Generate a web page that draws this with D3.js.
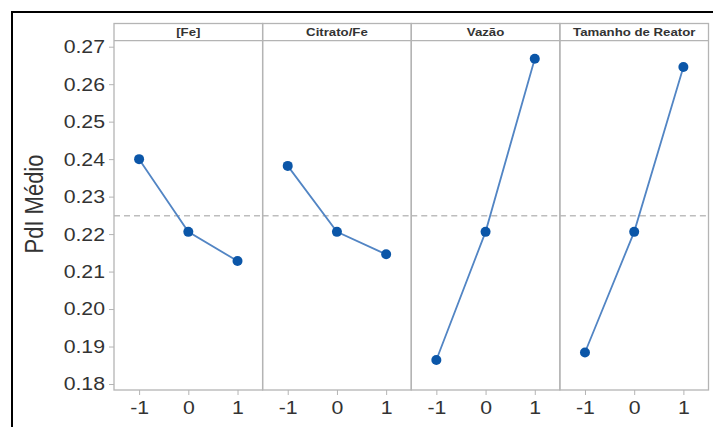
<!DOCTYPE html>
<html>
<head>
<meta charset="utf-8">
<script src="https://cdn.jsdelivr.net/npm/d3@7"></script>
<style>
  html, body { margin: 0; padding: 0; background: #fff; }
  svg { display: block; }
  text { font-family: "Liberation Sans", Arial, sans-serif; fill: #333; }
</style>
</head>
<body>
<svg id="chart" width="713" height="427"></svg>
<script>
// Main-effects plot: mean PdI at each factor level
const factors = ["[Fe]", "Citrato/Fe", "Vazão", "Tamanho de Reator"];
const levels = [-1, 0, 1];
const feMeans      = [0.2400, 0.2206, 0.2128];
const citratoMeans = [0.2382, 0.2206, 0.2146];
const vazaoMeans   = [0.1864, 0.2206, 0.2668];
const reatorMeans  = [0.1884, 0.2206, 0.2646];
const grandMean = 0.2249;
const yTicks = [0.18, 0.19, 0.20, 0.21, 0.22, 0.23, 0.24, 0.25, 0.26, 0.27];
const yLabel = "PdI Médio";

const seriesByFactor = [feMeans, citratoMeans, vazaoMeans, reatorMeans];

const svg = d3.select("#chart");
const W = 713, H = 427;
const plot = { left: 114, right: 708.5, top: 23.5, stripBottom: 40.7, bottom: 390 };
const sx = 1.15; // horizontal text stretch

// outer frame
svg.append("rect")
  .attr("x", 12).attr("y", 12)
  .attr("width", W + 10).attr("height", H + 10)
  .attr("fill", "none").attr("stroke", "#000").attr("stroke-width", 2);

const y = d3.scaleLinear()
  .domain([0.1784, 0.2716])
  .range([plot.bottom, plot.stripBottom]);

const panel = d3.scaleBand()
  .domain(factors)
  .range([plot.left, plot.right])
  .paddingInner(0).paddingOuter(0);

const gridColor = "#b4b4b4";

// y axis
const yAxis = svg.append("g")
  .attr("transform", `translate(${plot.left},0)`)
  .call(d3.axisLeft(y).tickValues(yTicks).tickFormat(d3.format(".2f")).tickSize(5).tickPadding(4));
yAxis.select(".domain").remove();
yAxis.selectAll(".tick line").attr("stroke", gridColor);
yAxis.selectAll(".tick text")
  .style("font-size", "18.5px").attr("fill", "#333")
  .each(function () {
    const t = d3.select(this);
    const xx = +t.attr("x");
    t.attr("transform", `translate(${xx},0) scale(${sx},1) translate(${-xx},0)`);
  });

// y axis title
svg.append("text")
  .attr("transform", `translate(43,204) rotate(-90) scale(1,${sx})`)
  .attr("text-anchor", "middle")
  .style("font-size", "22px")
  .text(yLabel);

factors.forEach((f, i) => {
  const x0 = panel(f);
  const bw = panel.bandwidth();
  const x = d3.scaleLinear().domain([-1.51, 1.51]).range([x0, x0 + bw]);
  const g = svg.append("g");
  const vals = seriesByFactor[i];
  const pts = levels.map((l, k) => ({ l, v: vals[k] }));

  // reference line at the overall mean
  g.append("line")
    .attr("x1", x0).attr("x2", x0 + bw)
    .attr("y1", y(grandMean)).attr("y2", y(grandMean))
    .attr("stroke", "#bdbdbd").attr("stroke-width", 1.6)
    .attr("stroke-dasharray", "6,4");

  // x axis
  const xa = g.append("g")
    .attr("transform", `translate(0,${plot.bottom})`)
    .call(d3.axisBottom(x).tickValues(levels).tickFormat(d3.format("d")).tickSize(5).tickPadding(6));
  xa.select(".domain").remove();
  xa.selectAll(".tick line").attr("stroke", gridColor);
  xa.selectAll(".tick text")
    .style("font-size", "18.5px").attr("fill", "#333")
    .attr("transform", `scale(${sx},1)`)
    .text(d => d < 0 ? "-1" : d);

  // line + points
  g.append("path")
    .datum(pts)
    .attr("fill", "none")
    .attr("stroke", "#5285c4")
    .attr("stroke-width", 1.8)
    .attr("d", d3.line().x(d => x(d.l)).y(d => y(d.v)));
  g.selectAll("circle")
    .data(pts).join("circle")
    .attr("cx", d => x(d.l)).attr("cy", d => y(d.v))
    .attr("r", 5)
    .attr("fill", "#0b56a8");

  // panel frame
  g.append("rect")
    .attr("x", x0).attr("y", plot.top)
    .attr("width", bw).attr("height", plot.bottom - plot.top)
    .attr("fill", "none").attr("stroke", gridColor).attr("stroke-width", 1.3);
  // strip
  g.append("line")
    .attr("x1", x0).attr("x2", x0 + bw)
    .attr("y1", plot.stripBottom).attr("y2", plot.stripBottom)
    .attr("stroke", gridColor).attr("stroke-width", 1.3);
  const cx = x0 + bw / 2;
  g.append("text")
    .attr("transform", `translate(${cx},${plot.stripBottom - 4.5}) scale(${sx},1)`)
    .attr("text-anchor", "middle")
    .style("font-size", "11.5px").style("font-weight", "bold")
    .text(f);
});
</script>
</body>
</html>
